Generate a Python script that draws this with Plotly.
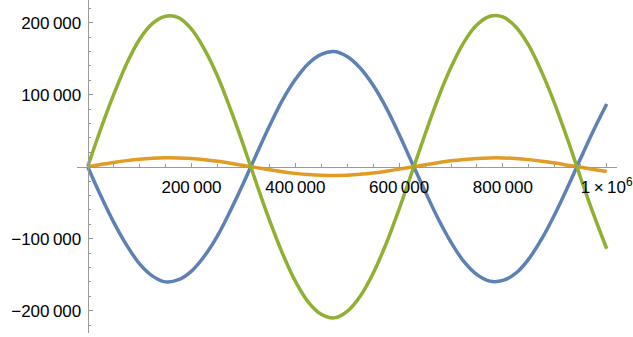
import plotly.graph_objects as go

# sample positions along x
x_vals = [0, 25000, 50000, 75000, 100000, 125000, 150000, 175000, 200000, 225000,
          250000, 275000, 300000, 325000, 350000, 375000, 400000, 425000, 450000, 475000,
          500000, 525000, 550000, 575000, 600000, 625000, 650000, 675000, 700000, 725000,
          750000, 775000, 800000, 825000, 850000, 875000, 900000, 925000, 950000, 975000,
          1000000]

# values
blue = [0, -40000, -77000, -109000, -135000, -152000, -160000, -157000, -145000, -124000,
        -96000, -61000, -23000, 17000, 56000, 92000, 121000, 143000, 156000, 160000,
        153000, 137000, 113000, 82000, 45000, 5000, -34000, -72000, -105000, -132000,
        -150000, -159000, -158000, -148000, -128000, -100000, -66000, -28000, 12000, 51000,
        87000]
orange = [0, 3000, 5900, 8400, 10400, 11700, 12300, 12100, 11200, 9600,
          7400, 4700, 1700, -1300, -4300, -7000, -9300, -11000, -12000, -12300,
          -11800, -10600, -8700, -6300, -3400, -400, 2600, 5500, 8100, 10100,
          11500, 12200, 12200, 11400, 9800, 7700, 5100, 2100, -900, -3900,
          -6700]
green = [0, 52000, 100000, 143000, 177000, 199000, 209000, 207000, 191000, 163000,
         126000, 80000, 30000, -23000, -74000, -120000, -159000, -188000, -205000, -210000,
         -201000, -180000, -148000, -107000, -59000, -7000, 45000, 95000, 138000, 173000,
         197000, 209000, 208000, 194000, 168000, 131000, 87000, 37000, -16000, -67000,
         -114000]

# thin spaces between digit groups, like the original labels
x_ticks = [200000, 400000, 600000, 800000, 1000000]
x_ticktext = ['200\u2009000', '400\u2009000', '600\u2009000', '800\u2009000',
              '1\u2009×\u200910<sup>6</sup>']
y_ticks = [-200000, -100000, 100000, 200000]
y_ticktext = ['−200\u2009000', '−100\u2009000', '100\u2009000', '200\u2009000']

x_range = [-20600, 1019800]
y_range = [-231000, 231500]

colors = {'blue': '#5E81B5', 'orange': '#E19C24', 'green': '#8FB032'}
axis_gray = '#9a9a9a'

fig = go.Figure()
for ys, c in [(blue, colors['blue']), (orange, colors['orange']), (green, colors['green'])]:
    fig.add_trace(go.Scatter(x=x_vals, y=ys, mode='lines',
                             line=dict(color=c, width=3.5, shape='spline'),
                             showlegend=False, hoverinfo='skip', cliponaxis=False))

fig.update_layout(
    width=633, height=337,
    margin=dict(l=77, r=16, t=0, b=4),
    paper_bgcolor='white', plot_bgcolor='white',
    font=dict(family='Liberation Sans, Arial, sans-serif', size=17, color='black'),
    xaxis=dict(
        range=x_range, anchor='free', automargin=False,
        position=(0 - y_range[0]) / (y_range[1] - y_range[0]),
        showgrid=False, zeroline=False,
        showline=True, linecolor=axis_gray, linewidth=1,
        tickmode='array', tickvals=x_ticks, ticktext=x_ticktext,
        ticks='inside', ticklen=4, tickcolor=axis_gray, ticklabelstandoff=5,
        ticklabeloverflow='allow',
        minor=dict(tickmode='linear', tick0=0, dtick=50000,
                   ticks='inside', ticklen=2.5, tickcolor=axis_gray),
    ),
    yaxis=dict(
        range=y_range, anchor='free', automargin=False,
        position=(0 - x_range[0]) / (x_range[1] - x_range[0]),
        showgrid=False, zeroline=False,
        showline=True, linecolor=axis_gray, linewidth=1,
        tickmode='array', tickvals=y_ticks, ticktext=y_ticktext,
        ticks='inside', ticklen=4, tickcolor=axis_gray, ticklabelstandoff=3,
        ticklabeloverflow='allow',
        minor=dict(tickmode='linear', tick0=0, dtick=20000,
                   ticks='inside', ticklen=2.5, tickcolor=axis_gray),
    ),
)

fig.write_html("out.html", config={'displayModeBar': False},
               post_script="document.body.style.margin='0';")
